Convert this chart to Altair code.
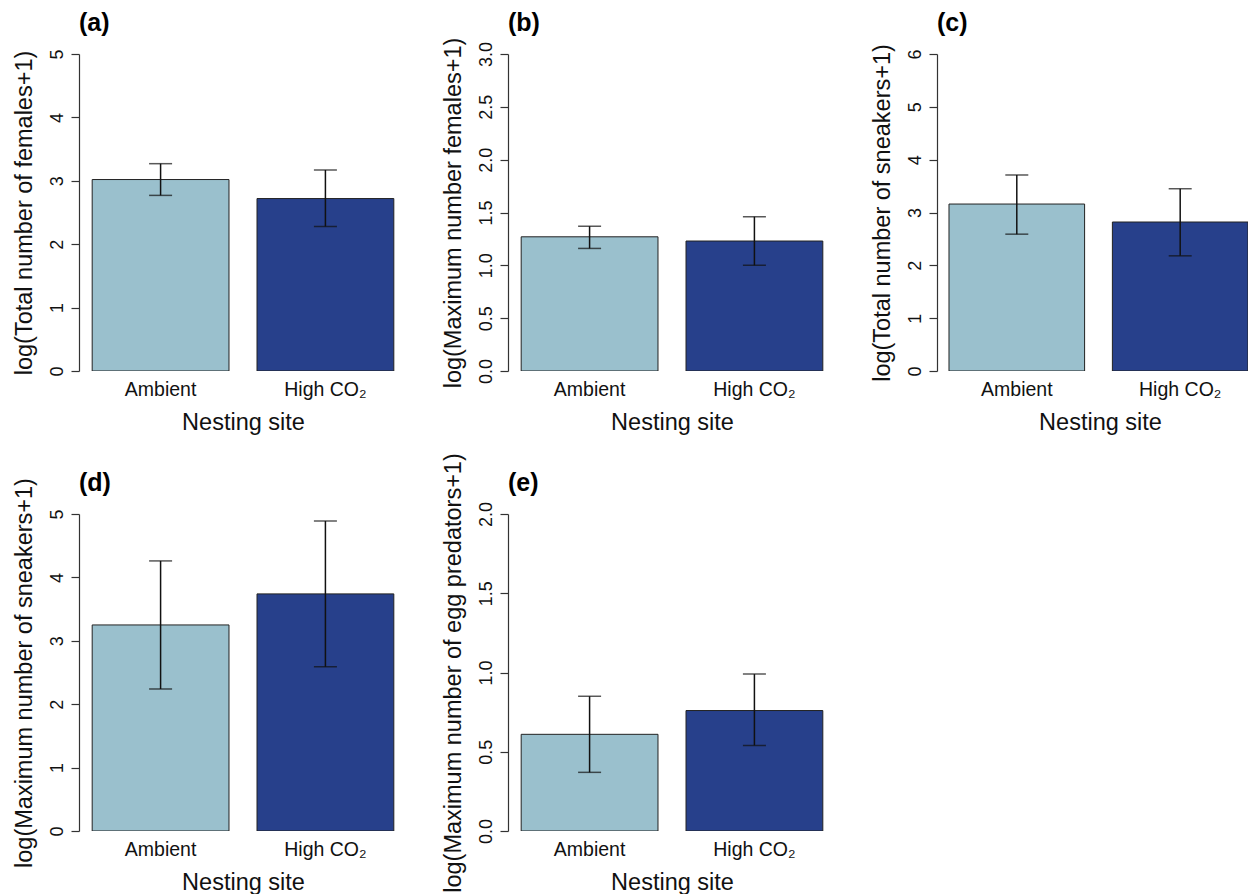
import altair as alt
import pandas as pd

sites = ["Ambient", "High CO₂"]
panel_tags = ["(a)", "(b)", "(c)", "(d)", "(e)"]
y_titles = [
    "log(Total number of females+1)",
    "log(Maximum number females+1)",
    "log(Total number of sneakers+1)",
    "log(Maximum number of sneakers+1)",
    "log(Maximum number of egg predators+1)",
]
x_title = "Nesting site"
means = [[3.02, 2.72], [1.27, 1.23], [3.16, 2.82], [3.25, 3.74], [0.61, 0.76]]
upper = [[3.27, 3.17], [1.37, 1.46], [3.71, 3.45], [4.26, 4.89], [0.85, 0.99]]
lower = [[2.77, 2.28], [1.16, 1.00], [2.59, 2.18], [2.24, 2.59], [0.37, 0.54]]
y_ticks = [
    [0, 1, 2, 3, 4, 5],
    [0.0, 0.5, 1.0, 1.5, 2.0, 2.5, 3.0],
    [0, 1, 2, 3, 4, 5, 6],
    [0, 1, 2, 3, 4, 5],
    [0.0, 0.5, 1.0, 1.5, 2.0],
]
y_formats = ["d", ".1f", "d", "d", ".1f"]
bar_colors = ["#9AC0CD", "#27408B"]

FONT = "Liberation Sans"
PLOT_W = 328
PLOT_H = 317


def panel(i, view_w=PLOT_W):
    df = pd.DataFrame({"site": sites, "mean": means[i], "hi": upper[i], "lo": lower[i]})
    if view_w == PLOT_W:
        scale_kw = dict(domain=sites, paddingInner=0.17, paddingOuter=0.08)
    else:
        # right-hand panel is cut off at the page edge: all outer padding on the left
        scale_kw = dict(domain=sites, paddingInner=0.17, paddingOuter=0.0367, align=1)
    x_axis_kw = dict(
        title=x_title, domain=False, ticks=False, labelAngle=0,
        labelPadding=9, labelFontSize=19.5, titleFontSize=23.5, titlePadding=12,
    )
    if view_w != PLOT_W:
        x_axis_kw["titleX"] = 163
    x = alt.X("site:N", sort=sites, scale=alt.Scale(**scale_kw), axis=alt.Axis(**x_axis_kw))
    yscale = alt.Scale(domain=[y_ticks[i][0], y_ticks[i][-1]], nice=False, zero=True)
    yaxis = alt.Axis(
        title=y_titles[i], values=y_ticks[i], format=y_formats[i],
        labelAngle=-90, labelAlign="center", labelBaseline="bottom",
        labelPadding=5, labelFontSize=18, titleFontSize=23.5, titlePadding=12,
        tickSize=8, grid=False,
    )
    base = alt.Chart(df)
    bars = base.mark_bar(stroke="#222222", strokeWidth=1, clip=True).encode(
        x=x,
        y=alt.Y("mean:Q", scale=yscale, axis=yaxis, title=y_titles[i]),
        color=alt.Color("site:N", scale=alt.Scale(domain=sites, range=bar_colors), legend=None),
    )
    rule = base.mark_rule(color="#111111", strokeWidth=1.5).encode(
        x=alt.X("site:N", sort=sites),
        y=alt.Y("lo:Q", title=y_titles[i]),
        y2="hi:Q",
    )
    cap_hi = base.mark_tick(color="#111111", size=23, thickness=1.5).encode(
        x=alt.X("site:N", sort=sites), y=alt.Y("hi:Q", title=y_titles[i])
    )
    cap_lo = base.mark_tick(color="#111111", size=23, thickness=1.5).encode(
        x=alt.X("site:N", sort=sites), y=alt.Y("lo:Q", title=y_titles[i])
    )
    tag = alt.Chart(pd.DataFrame({"tag": [panel_tags[i]]})).mark_text(
        align="left", baseline="middle", fontSize=25, fontWeight="bold", font=FONT, color="black"
    ).encode(text="tag:N", x=alt.value(0), y=alt.value(-31))
    return alt.layer(bars, rule, cap_hi, cap_lo, tag).properties(width=view_w, height=PLOT_H)


chart = (
    alt.concat(
        panel(0), panel(1), panel(2, view_w=311), panel(3), panel(4),
        columns=3, spacing={"row": 143, "column": 101}, bounds="flush",
    )
    .properties(padding={"left": 12, "top": 11, "right": 0, "bottom": 0}, background="white")
    .configure_view(stroke=None)
    .configure_axis(
        labelFont=FONT, titleFont=FONT, labelColor="#111111", titleColor="#111111",
        titleFontWeight="normal", domainColor="#333333", tickColor="#333333",
        domainWidth=1.2, tickWidth=1.2,
    )
)

chart.save("out.html", embed_options={"renderer": "svg", "actions": False})
